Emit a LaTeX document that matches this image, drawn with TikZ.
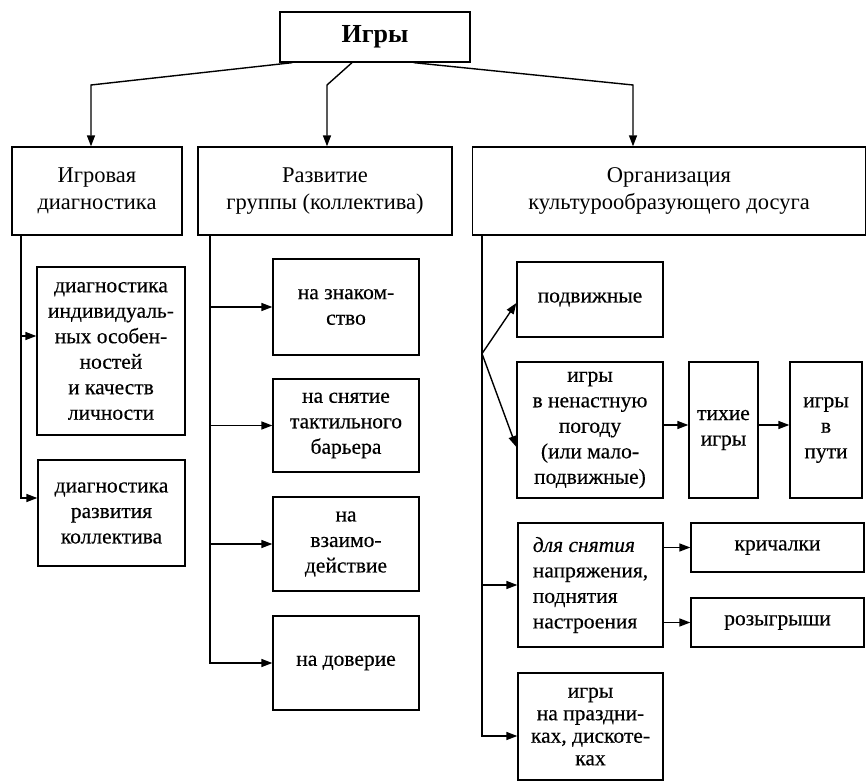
\documentclass[tikz,border=0pt]{standalone}
\usepackage{fontspec}
\setmainfont{Liberation Serif}
\newfontfamily\scanfont{Liberation Serif}[FakeBold=0.35]
\usetikzlibrary{arrows.meta}
\begin{document}
\begin{tikzpicture}[x=1pt,y=-1pt,
  box/.style={draw, line width=1.3pt, inner sep=0pt, align=center, font=\scanfont\fontsize{21.5}{25.5}\selectfont},
  hbox/.style={box, font=\fontsize{22.5}{26.5}\selectfont},
  arr/.style={line width=1.4pt, -{Triangle[length=11pt,width=8pt]}},
  ln/.style={line width=1.4pt}]
\useasboundingbox (0,0) rectangle (867,781);
% top
\node[box, minimum width=190pt, minimum height=50pt, font=\bfseries\fontsize{26}{30}\selectfont] (top) at (375,37) {Игры};
% level 2
\node[hbox, minimum width=170pt, minimum height=88pt] (L) at (97,191) {Игровая\\диагностика};
\node[hbox, minimum width=254pt, minimum height=88pt] (M) at (325,191) {Развитие\\группы (коллектива)};
\node[hbox, minimum width=393pt, minimum height=88pt] (R) at (669,191) {Организация\\культурообразующего досуга};
% left column
\node[box, minimum width=148pt, minimum height=168pt] (d1) at (111,351) {диагностика\\индивидуаль-\\ных особен-\\ностей\\и качеств\\личности};
\node[box, minimum width=147pt, minimum height=106pt] (d2) at (111.5,513) {диагностика\\развития\\коллектива};
% middle column
\node[box, minimum width=146pt, minimum height=96pt] (m1) at (346,307) {на знаком-\\ство};
\node[box, minimum width=146pt, minimum height=93pt] (m2) at (346,425.5) {на снятие\\тактильного\\барьера};
\node[box, minimum width=146pt, minimum height=94pt] (m3) at (346,544) {на\\взаимо-\\действие};
\node[box, minimum width=146pt, minimum height=94pt] (m4) at (346,663) {на доверие};
% right column
\node[box, minimum width=146pt, minimum height=75pt] (r1) at (590,299.5) {подвижные};
\node[box, minimum width=146pt, minimum height=136pt] (r2) at (590,430) {игры\\в ненастную\\погоду\\(или мало-\\подвижные)};
\node[box, minimum width=69pt, minimum height=136pt] (r3) at (723.5,430) {тихие\\игры};
\node[box, minimum width=72pt, minimum height=136pt] (r4) at (826,430) {игры\\в\\пути};
\node[box, align=left, minimum width=145pt, minimum height=124pt] (r5) at (590.5,585) {{\itshape для снятия}\\напряжения,\\поднятия\\настроения};
\node[box, minimum width=173pt, minimum height=49pt] (r6) at (777.5,547.5) {\raisebox{-2pt}{кричалки}};
\node[box, minimum width=173pt, minimum height=49pt] (r7) at (777.5,622.5) {\raisebox{-2pt}{розыгрыши}};
\node[box, minimum width=145pt, minimum height=107pt, font=\scanfont\fontsize{21.5}{22.5}\selectfont] (r8) at (590.5,726.5) {игры\\на праздни-\\ках, дискоте-\\ках};
% top connectors
\coordinate (kL) at (91,85);
\coordinate (kM) at (327,85);
\coordinate (kR) at (633,85);
\draw[arr] ([xshift=13pt]top.south west) -- (kL) -- (kL |- L.north);
\draw[arr] ([xshift=-23pt]top.south) -- (kM) -- (kM |- M.north);
\draw[arr] ([xshift=-57pt]top.south east) -- (kR) -- (kR |- R.north);
% left connectors
\coordinate (lb) at ([xshift=-76pt]L.south);
\coordinate (d1in) at ([yshift=15pt]d1.west);
\coordinate (d2in) at ([yshift=15pt]d2.west);
\draw[arr] (lb) |- (d2in);
\draw[arr] (d1in -| lb) -- (d1in);
% middle connectors
\coordinate (mb) at ([xshift=-115pt]M.south);
\draw[arr] (mb) |- (m4.west);
\draw[arr] (m1.west -| mb) -- (m1.west);
\draw[arr] (m2.west -| mb) -- (m2.west);
\draw[arr] (m3.west -| mb) -- (m3.west);
% right connectors
\coordinate (rb) at ([xshift=-187pt]R.south);
\coordinate (r8in) at ([yshift=-9.5pt]r8.west);
\draw[arr] (rb) |- (r8in);
\draw[arr] (r5.west -| rb) -- (r5.west);
\coordinate (rd) at ([yshift=-118pt]rb);
\draw[arr] (rd) -- ([yshift=-3.5pt]r1.west);
\draw[arr] (rd) -- ([yshift=-17pt]r2.west);
\coordinate (r2out) at ([yshift=5pt]r2.east);
\draw[arr] (r2out) -- (r2out -| r3.west);
\draw[arr] (r2out -| r3.east) -- (r2out -| r4.west);
\draw[arr] (r5.east |- r6.west) -- (r6.west);
\draw[arr] (r5.east |- r7.west) -- (r7.west);
\end{tikzpicture}
\end{document}
